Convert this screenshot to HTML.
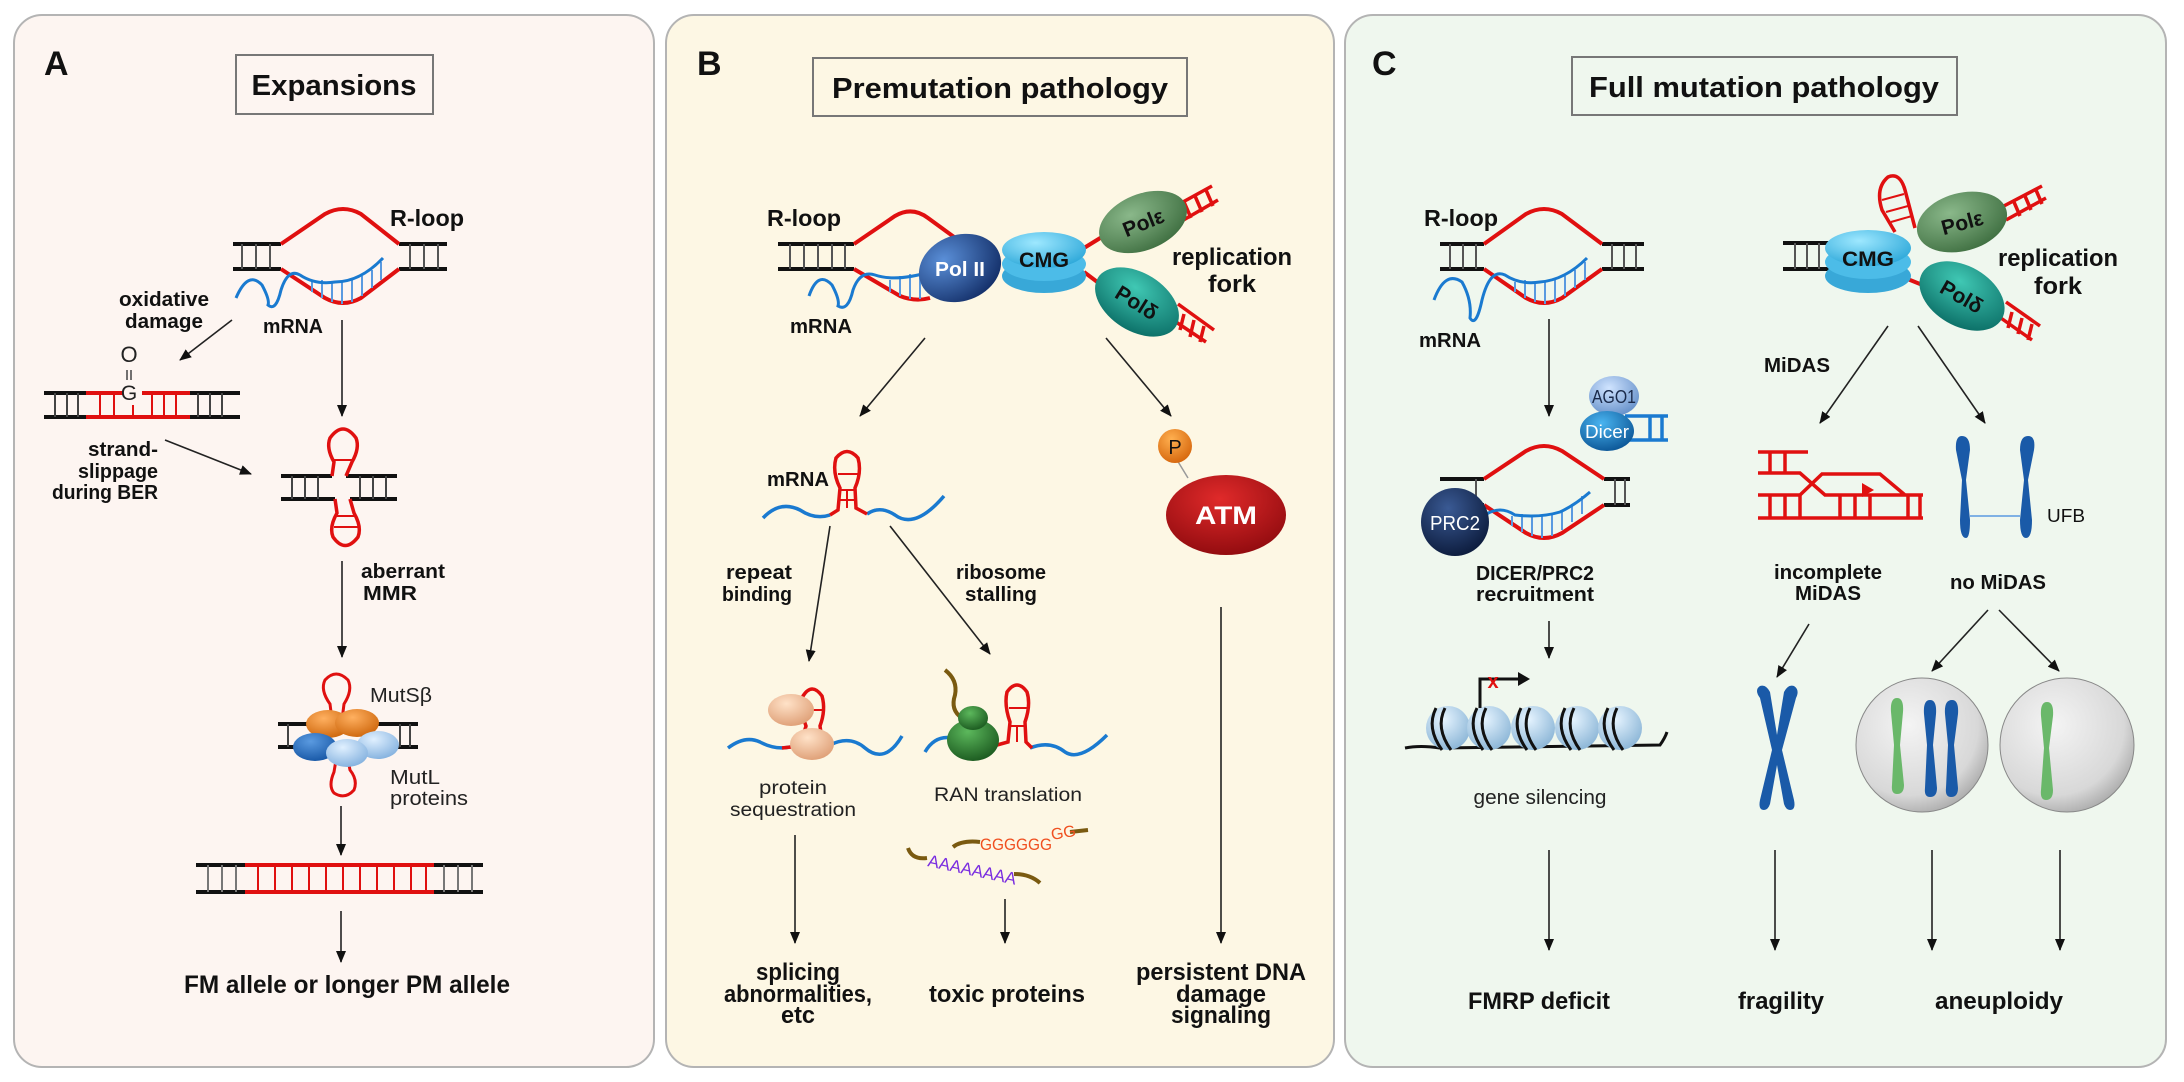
<!DOCTYPE html>
<html><head><meta charset="utf-8"><style>
html,body{margin:0;padding:0;background:#fff}
svg{display:block}
text{font-family:"Liberation Sans",sans-serif}
.b{font-weight:bold;fill:#111}
.n{fill:#222}
</style></head><body>
<svg width="2184" height="1082" viewBox="0 0 2184 1082" xmlns="http://www.w3.org/2000/svg">
<defs>
<marker id="ar" viewBox="0 0 12 10" refX="11" refY="5" markerWidth="12" markerHeight="10" markerUnits="userSpaceOnUse" orient="auto">
<path d="M0,0 L12,5 L0,10 z" fill="#111"/></marker>
<radialGradient id="gb" cx="35%" cy="30%" r="75%"><stop offset="0" stop-color="#5a8fd8"/><stop offset="1" stop-color="#14306a"/></radialGradient>
<radialGradient id="gc" cx="40%" cy="30%" r="75%"><stop offset="0" stop-color="#9ee8ff"/><stop offset="1" stop-color="#2aa6d8"/></radialGradient>
<radialGradient id="ge" cx="40%" cy="30%" r="75%"><stop offset="0" stop-color="#8ab88a"/><stop offset="1" stop-color="#3e6e40"/></radialGradient>
<radialGradient id="gd" cx="40%" cy="30%" r="75%"><stop offset="0" stop-color="#40c8b4"/><stop offset="1" stop-color="#0b6e66"/></radialGradient>
<radialGradient id="gr" cx="45%" cy="30%" r="75%"><stop offset="0" stop-color="#e02a2a"/><stop offset="1" stop-color="#8e0a0e"/></radialGradient>
<radialGradient id="go" cx="40%" cy="30%" r="70%"><stop offset="0" stop-color="#ffb050"/><stop offset="1" stop-color="#d86a10"/></radialGradient>
<radialGradient id="gp" cx="40%" cy="30%" r="70%"><stop offset="0" stop-color="#ffe2c8"/><stop offset="1" stop-color="#e0a27a"/></radialGradient>
<radialGradient id="gg" cx="40%" cy="30%" r="70%"><stop offset="0" stop-color="#5cb85c"/><stop offset="1" stop-color="#1e5e22"/></radialGradient>
<radialGradient id="gl" cx="40%" cy="30%" r="70%"><stop offset="0" stop-color="#e6f4ff"/><stop offset="1" stop-color="#8fb8d8"/></radialGradient>
<radialGradient id="gcell" cx="40%" cy="35%" r="70%"><stop offset="0" stop-color="#f4f4f4"/><stop offset="0.75" stop-color="#d8d8d8"/><stop offset="1" stop-color="#a8a8a8"/></radialGradient>
<radialGradient id="gm1" cx="40%" cy="30%" r="70%"><stop offset="0" stop-color="#ffb060"/><stop offset="1" stop-color="#d06a10"/></radialGradient>
<radialGradient id="gm2" cx="40%" cy="30%" r="70%"><stop offset="0" stop-color="#5a9ae0"/><stop offset="1" stop-color="#1a5aa8"/></radialGradient>
<radialGradient id="gm3" cx="40%" cy="30%" r="70%"><stop offset="0" stop-color="#e0f0ff"/><stop offset="1" stop-color="#88b4e0"/></radialGradient>
<radialGradient id="gago" cx="40%" cy="30%" r="70%"><stop offset="0" stop-color="#d0e4ff"/><stop offset="1" stop-color="#6a94cc"/></radialGradient>
<radialGradient id="gdic" cx="40%" cy="30%" r="70%"><stop offset="0" stop-color="#4ab4f0"/><stop offset="1" stop-color="#0e5a9a"/></radialGradient>
<radialGradient id="gprc" cx="40%" cy="30%" r="70%"><stop offset="0" stop-color="#3a5a94"/><stop offset="1" stop-color="#0e1e40"/></radialGradient>
</defs>

<rect x="14" y="15" width="640" height="1052" rx="28" fill="#fdf5f1" stroke="#b4b4b4" stroke-width="2"/>
<rect x="666" y="15" width="668" height="1052" rx="28" fill="#fdf7e4" stroke="#b4b4b4" stroke-width="2"/>
<rect x="1345" y="15" width="821" height="1052" rx="28" fill="#eff7ee" stroke="#b4b4b4" stroke-width="2"/>

<text x="44" y="75" class="b" font-size="34">A</text>
<text x="697" y="75" class="b" font-size="34">B</text>
<text x="1372" y="75" class="b" font-size="34">C</text>

<rect x="236" y="55" width="197" height="59" fill="none" stroke="#777" stroke-width="2"/>
<text x="334" y="95" class="b" font-size="29" text-anchor="middle" textLength="165" lengthAdjust="spacingAndGlyphs">Expansions</text>
<rect x="813" y="58" width="374" height="58" fill="none" stroke="#777" stroke-width="2"/>
<text x="1000" y="98" class="b" font-size="29" text-anchor="middle" textLength="336" lengthAdjust="spacingAndGlyphs">Premutation pathology</text>
<rect x="1572" y="57" width="385" height="58" fill="none" stroke="#777" stroke-width="2"/>
<text x="1764" y="97" class="b" font-size="29" text-anchor="middle" textLength="350" lengthAdjust="spacingAndGlyphs">Full mutation pathology</text>

<g stroke="#222" stroke-width="1.6" fill="none" marker-end="url(#ar)">
<line x1="232" y1="320" x2="180" y2="360"/>
<line x1="342" y1="320" x2="342" y2="416"/>
<line x1="165" y1="440" x2="251" y2="474"/>
<line x1="342" y1="561" x2="342" y2="657"/>
<line x1="341" y1="806" x2="341" y2="855"/>
<line x1="341" y1="911" x2="341" y2="962"/>
<line x1="925" y1="338" x2="860" y2="416"/>
<line x1="1106" y1="338" x2="1171" y2="416"/>
<line x1="830" y1="526" x2="809" y2="661"/>
<line x1="890" y1="526" x2="990" y2="654"/>
<line x1="795" y1="835" x2="795" y2="943"/>
<line x1="1005" y1="899" x2="1005" y2="943"/>
<line x1="1221" y1="607" x2="1221" y2="943"/>
<line x1="1549" y1="319" x2="1549" y2="416"/>
<line x1="1549" y1="621" x2="1549" y2="658"/>
<line x1="1549" y1="850" x2="1549" y2="950"/>
<line x1="1888" y1="326" x2="1820" y2="423"/>
<line x1="1918" y1="326" x2="1985" y2="423"/>
<line x1="1809" y1="624" x2="1777" y2="677"/>
<line x1="1988" y1="610" x2="1932" y2="671"/>
<line x1="1999" y1="610" x2="2059" y2="671"/>
<line x1="1775" y1="850" x2="1775" y2="950"/>
<line x1="1932" y1="850" x2="1932" y2="950"/>
<line x1="2060" y1="850" x2="2060" y2="950"/>
</g>

<g stroke="#111" stroke-width="4"><line x1="233" y1="244" x2="281" y2="244"/><line x1="233" y1="269" x2="281" y2="269"/><line x1="399" y1="244" x2="447" y2="244"/><line x1="399" y1="269" x2="447" y2="269"/></g>
<g stroke="#555" stroke-width="2"><line x1="242" y1="244" x2="242" y2="269"/><line x1="256" y1="244" x2="256" y2="269"/><line x1="270" y1="244" x2="270" y2="269"/><line x1="410" y1="244" x2="410" y2="269"/><line x1="424" y1="244" x2="424" y2="269"/><line x1="438" y1="244" x2="438" y2="269"/></g>
<path d="M281,244 L325,214 Q343,204 361,214 L399,244" stroke="#e01010" stroke-width="4" fill="none"/>
<path d="M281,269 L325,298 Q343,308 361,298 L399,269" stroke="#e01010" stroke-width="4" fill="none"/>
<g stroke="#5a9ae0" stroke-width="2"><line x1="312" y1="282" x2="312" y2="292"/><line x1="322" y1="280" x2="322" y2="298"/><line x1="332" y1="282" x2="332" y2="302"/><line x1="342" y1="282" x2="342" y2="304"/><line x1="352" y1="280" x2="352" y2="302"/><line x1="362" y1="276" x2="362" y2="296"/><line x1="372" y1="270" x2="372" y2="288"/><line x1="381" y1="262" x2="381" y2="280"/></g>
<path d="M236,298 Q248,270 262,285 Q270,300 268,305 Q276,312 281,290 Q288,268 300,275 Q315,285 335,282 Q360,282 383,258" stroke="#1a7ad0" stroke-width="3" fill="none"/>
<text x="390" y="226" class="b" font-size="23" textLength="74" lengthAdjust="spacingAndGlyphs">R-loop</text>
<text x="164" y="306" class="b" font-size="20" text-anchor="middle" textLength="90" lengthAdjust="spacingAndGlyphs">oxidative</text>
<text x="164" y="328" class="b" font-size="20" text-anchor="middle" textLength="78" lengthAdjust="spacingAndGlyphs">damage</text>
<text x="293" y="333" class="b" font-size="20" text-anchor="middle" textLength="60" lengthAdjust="spacingAndGlyphs">mRNA</text>
<g stroke-width="4"><line x1="44" y1="393" x2="86" y2="393" stroke="#111"/><line x1="44" y1="417" x2="86" y2="417" stroke="#111"/><line x1="190" y1="393" x2="240" y2="393" stroke="#111"/><line x1="190" y1="417" x2="240" y2="417" stroke="#111"/><line x1="86" y1="393" x2="123" y2="393" stroke="#e01010"/><line x1="142" y1="393" x2="190" y2="393" stroke="#e01010"/><line x1="86" y1="417" x2="190" y2="417" stroke="#e01010"/></g>
<g stroke="#444" stroke-width="2"><line x1="55" y1="393" x2="55" y2="417"/><line x1="67" y1="393" x2="67" y2="417"/><line x1="78" y1="393" x2="78" y2="417"/><line x1="198" y1="393" x2="198" y2="417"/><line x1="210" y1="393" x2="210" y2="417"/><line x1="222" y1="393" x2="222" y2="417"/></g>
<g stroke="#e01010" stroke-width="2"><line x1="100" y1="393" x2="100" y2="417"/><line x1="114" y1="393" x2="114" y2="417"/><line x1="133" y1="405" x2="133" y2="417"/><line x1="152" y1="393" x2="152" y2="417"/><line x1="164" y1="393" x2="164" y2="417"/><line x1="176" y1="393" x2="176" y2="417"/></g>
<text x="129" y="362" font-size="22" fill="#222" text-anchor="middle">O</text>
<g stroke="#444" stroke-width="1.5"><line x1="127" y1="370" x2="127" y2="380"/><line x1="131" y1="370" x2="131" y2="380"/></g>
<text x="129" y="400" font-size="21" fill="#222" text-anchor="middle">G</text>
<text x="158" y="456" class="b" font-size="20" text-anchor="end" textLength="70" lengthAdjust="spacingAndGlyphs">strand-</text>
<text x="158" y="478" class="b" font-size="20" text-anchor="end" textLength="80" lengthAdjust="spacingAndGlyphs">slippage</text>
<text x="158" y="499" class="b" font-size="20" text-anchor="end" textLength="106" lengthAdjust="spacingAndGlyphs">during BER</text>
<g stroke="#111" stroke-width="4"><line x1="281" y1="476" x2="332" y2="476"/><line x1="346" y1="476" x2="397" y2="476"/><line x1="281" y1="499" x2="335" y2="499"/><line x1="350" y1="499" x2="397" y2="499"/></g>
<g stroke="#444" stroke-width="2"><line x1="292" y1="476" x2="292" y2="499"/><line x1="305" y1="476" x2="305" y2="499"/><line x1="318" y1="476" x2="318" y2="499"/><line x1="360" y1="476" x2="360" y2="499"/><line x1="373" y1="476" x2="373" y2="499"/><line x1="386" y1="476" x2="386" y2="499"/></g>
<path d="M332,476 L334,462 Q326,448 330,438 Q343,420 356,438 Q360,448 352,462 L346,476" stroke="#e01010" stroke-width="3.5" fill="none"/>
<line x1="333" y1="460" x2="353" y2="460" stroke="#e01010" stroke-width="2"/>
<path d="M335,499 L337,513 Q329,527 333,537 Q345,554 358,537 Q362,527 354,513 L350,499" stroke="#e01010" stroke-width="3.5" fill="none"/>
<line x1="336" y1="516" x2="355" y2="516" stroke="#e01010" stroke-width="2"/>
<line x1="334" y1="527" x2="358" y2="527" stroke="#e01010" stroke-width="2"/>
<text x="361" y="578" class="b" font-size="20" textLength="84" lengthAdjust="spacingAndGlyphs">aberrant</text>
<text x="363" y="600" class="b" font-size="20" textLength="54" lengthAdjust="spacingAndGlyphs">MMR</text>
<g stroke="#111" stroke-width="4"><line x1="278" y1="724" x2="418" y2="724"/><line x1="278" y1="747" x2="418" y2="747"/></g>
<g stroke="#444" stroke-width="2"><line x1="288" y1="724" x2="288" y2="747"/><line x1="400" y1="724" x2="400" y2="747"/><line x1="410" y1="724" x2="410" y2="747"/></g>
<path d="M332,720 L330,704 Q320,690 325,680 Q336,668 348,680 Q353,690 344,704 L342,720" stroke="#e01010" stroke-width="3" fill="none"/>
<path d="M336,760 L334,772 Q328,786 334,793 Q345,800 354,790 Q358,780 350,770 L348,760" stroke="#e01010" stroke-width="3" fill="none"/>
<ellipse cx="328" cy="724" rx="22" ry="14" fill="url(#gm1)"/>
<ellipse cx="357" cy="723" rx="22" ry="14" fill="url(#gm1)"/>
<ellipse cx="315" cy="747" rx="22" ry="14" fill="url(#gm2)"/>
<ellipse cx="378" cy="745" rx="21" ry="14" fill="url(#gm3)"/>
<ellipse cx="347" cy="753" rx="21" ry="14" fill="url(#gm3)"/>
<text x="370" y="702" font-size="20" fill="#222" textLength="62" lengthAdjust="spacingAndGlyphs">MutSβ</text>
<text x="390" y="784" font-size="20" fill="#222" textLength="50" lengthAdjust="spacingAndGlyphs">MutL</text>
<text x="390" y="805" font-size="20" fill="#222" textLength="78" lengthAdjust="spacingAndGlyphs">proteins</text>
<g stroke-width="4"><line x1="196" y1="865" x2="245" y2="865" stroke="#111"/><line x1="434" y1="865" x2="483" y2="865" stroke="#111"/><line x1="196" y1="892" x2="245" y2="892" stroke="#111"/><line x1="434" y1="892" x2="483" y2="892" stroke="#111"/><line x1="245" y1="865" x2="434" y2="865" stroke="#e01010"/><line x1="245" y1="892" x2="434" y2="892" stroke="#e01010"/></g>
<g stroke="#777" stroke-width="2"><line x1="208" y1="865" x2="208" y2="892"/><line x1="222" y1="865" x2="222" y2="892"/><line x1="236" y1="865" x2="236" y2="892"/><line x1="444" y1="865" x2="444" y2="892"/><line x1="458" y1="865" x2="458" y2="892"/><line x1="472" y1="865" x2="472" y2="892"/></g>
<g stroke="#e01010" stroke-width="2"><line x1="258" y1="865" x2="258" y2="892"/><line x1="275" y1="865" x2="275" y2="892"/><line x1="292" y1="865" x2="292" y2="892"/><line x1="309" y1="865" x2="309" y2="892"/><line x1="326" y1="865" x2="326" y2="892"/><line x1="343" y1="865" x2="343" y2="892"/><line x1="360" y1="865" x2="360" y2="892"/><line x1="377" y1="865" x2="377" y2="892"/><line x1="394" y1="865" x2="394" y2="892"/><line x1="411" y1="865" x2="411" y2="892"/><line x1="426" y1="865" x2="426" y2="892"/></g>
<text x="347" y="993" class="b" font-size="25" text-anchor="middle" textLength="326" lengthAdjust="spacingAndGlyphs">FM allele or longer PM allele</text>

<g stroke="#111" stroke-width="4"><line x1="778" y1="244" x2="854" y2="244"/><line x1="778" y1="269" x2="854" y2="269"/></g>
<g stroke="#555" stroke-width="2"><line x1="790" y1="244" x2="790" y2="269"/><line x1="804" y1="244" x2="804" y2="269"/><line x1="818" y1="244" x2="818" y2="269"/><line x1="832" y1="244" x2="832" y2="269"/><line x1="845" y1="244" x2="845" y2="269"/></g>
<path d="M854,244 L895,216 Q912,206 928,218 L965,245" stroke="#e01010" stroke-width="4" fill="none"/>
<path d="M854,269 L900,296 Q915,302 930,298" stroke="#e01010" stroke-width="4" fill="none"/>
<g stroke="#5a9ae0" stroke-width="2"><line x1="890" y1="280" x2="890" y2="292"/><line x1="900" y1="276" x2="900" y2="296"/><line x1="910" y1="274" x2="910" y2="299"/><line x1="920" y1="274" x2="920" y2="299"/></g>
<path d="M809,296 Q818,270 832,285 Q840,300 838,306 Q848,312 853,290 Q860,270 875,275 Q895,282 930,272" stroke="#1a7ad0" stroke-width="3" fill="none"/>
<line x1="1084" y1="248" x2="1110" y2="232" stroke="#e01010" stroke-width="4"/>
<line x1="1084" y1="272" x2="1108" y2="290" stroke="#e01010" stroke-width="4"/>
<ellipse cx="960" cy="268" rx="42" ry="33" transform="rotate(-20 960 268)" fill="url(#gb)"/>
<text x="960" y="276" font-size="20" font-weight="bold" fill="#fff" text-anchor="middle" textLength="50" lengthAdjust="spacingAndGlyphs">Pol II</text>
<ellipse cx="1044" cy="276" rx="42" ry="17" fill="#38a8d8"/>
<ellipse cx="1044" cy="264" rx="42" ry="17" fill="#4cbce8"/>
<ellipse cx="1044" cy="250" rx="42" ry="18" fill="url(#gc)"/>
<text x="1044" y="267" font-size="21" font-weight="bold" fill="#111" text-anchor="middle" textLength="50" lengthAdjust="spacingAndGlyphs">CMG</text>
<g stroke="#e01010" stroke-width="3.5" fill="none"><path d="M1172,208 L1212,186 M1180,222 L1218,200 M1184,202 L1191,218 M1195,196 L1202,212 M1206,190 L1213,206"/>
<path d="M1170,318 L1206,342 M1178,304 L1214,330 M1184,314 L1180,330 M1194,320 L1190,337 M1204,326 L1200,342"/></g>
<ellipse cx="1143" cy="222" rx="46" ry="28" transform="rotate(-22 1143 222)" fill="url(#ge)"/>
<text x="1143" y="230" font-size="21" font-weight="bold" fill="#111" text-anchor="middle" transform="rotate(-22 1143 222)">Polε</text>
<ellipse cx="1137" cy="302" rx="46" ry="29" transform="rotate(32 1137 302)" fill="url(#gd)"/>
<text x="1137" y="310" font-size="21" font-weight="bold" fill="#111" text-anchor="middle" transform="rotate(32 1137 302)">Polδ</text>
<text x="1232" y="265" class="b" font-size="24" text-anchor="middle" textLength="120" lengthAdjust="spacingAndGlyphs">replication</text>
<text x="1232" y="292" class="b" font-size="24" text-anchor="middle" textLength="48" lengthAdjust="spacingAndGlyphs">fork</text>
<text x="767" y="226" class="b" font-size="23" textLength="74" lengthAdjust="spacingAndGlyphs">R-loop</text>
<text x="821" y="333" class="b" font-size="20" text-anchor="middle" textLength="62" lengthAdjust="spacingAndGlyphs">mRNA</text>
<text x="767" y="486" class="b" font-size="20" textLength="62" lengthAdjust="spacingAndGlyphs">mRNA</text>
<path d="M763,518 Q780,500 800,510 Q815,520 830,515" stroke="#1a7ad0" stroke-width="3.5" fill="none"/>
<path d="M867,514 Q880,505 895,515 Q915,530 944,496" stroke="#1a7ad0" stroke-width="3.5" fill="none"/>
<path d="M830,515 L838,510 L840,488 Q832,472 836,458 Q847,445 858,458 Q862,472 855,488 L856,508 L867,514" stroke="#e01010" stroke-width="3.5" fill="none"/>
<g stroke="#e01010" stroke-width="2"><line x1="838" y1="474" x2="858" y2="474"/><line x1="840" y1="490" x2="856" y2="490"/><line x1="840" y1="500" x2="856" y2="500"/><line x1="847" y1="490" x2="847" y2="508"/></g>
<line x1="1177" y1="460" x2="1188" y2="478" stroke="#999" stroke-width="1.5"/>
<circle cx="1175" cy="446" r="17" fill="url(#go)"/>
<text x="1175" y="454" font-size="20" fill="#111" text-anchor="middle">P</text>
<ellipse cx="1226" cy="515" rx="60" ry="40" fill="url(#gr)"/>
<text x="1226" y="524" font-size="25" font-weight="bold" fill="#fff" text-anchor="middle" textLength="62" lengthAdjust="spacingAndGlyphs">ATM</text>
<text x="792" y="579" class="b" font-size="20" text-anchor="end" textLength="66" lengthAdjust="spacingAndGlyphs">repeat</text>
<text x="792" y="601" class="b" font-size="20" text-anchor="end" textLength="70" lengthAdjust="spacingAndGlyphs">binding</text>
<text x="1001" y="579" class="b" font-size="20" text-anchor="middle" textLength="90" lengthAdjust="spacingAndGlyphs">ribosome</text>
<text x="1001" y="601" class="b" font-size="20" text-anchor="middle" textLength="72" lengthAdjust="spacingAndGlyphs">stalling</text>
<path d="M728,748 Q745,735 760,742 Q775,750 790,747" stroke="#1a7ad0" stroke-width="3.5" fill="none"/>
<path d="M830,745 Q850,735 865,748 Q885,765 902,736" stroke="#1a7ad0" stroke-width="3.5" fill="none"/>
<path d="M782,748 L800,746 L806,726 Q800,710 803,696 Q812,682 822,696 Q826,710 820,726 L822,740" stroke="#e01010" stroke-width="3.5" fill="none"/>
<line x1="806" y1="710" x2="822" y2="710" stroke="#e01010" stroke-width="2"/>
<ellipse cx="791" cy="710" rx="23" ry="16" fill="url(#gp)"/>
<ellipse cx="812" cy="744" rx="22" ry="16" fill="url(#gp)"/>
<text x="793" y="794" font-size="19" fill="#222" text-anchor="middle" textLength="68" lengthAdjust="spacingAndGlyphs">protein</text>
<text x="793" y="816" font-size="19" fill="#222" text-anchor="middle" textLength="126" lengthAdjust="spacingAndGlyphs">sequestration</text>
<path d="M925,752 Q935,735 952,738" stroke="#1a7ad0" stroke-width="3.5" fill="none"/>
<path d="M1030,748 Q1050,740 1065,752 Q1080,762 1107,735" stroke="#1a7ad0" stroke-width="3.5" fill="none"/>
<path d="M945,670 Q958,680 955,695 Q950,710 962,718" stroke="#7a5a10" stroke-width="4" fill="none"/>
<path d="M997,745 L1008,742 L1010,722 Q1004,705 1007,692 Q1017,678 1027,692 Q1031,705 1025,722 L1026,742 L1032,748" stroke="#e01010" stroke-width="3.5" fill="none"/>
<g stroke="#e01010" stroke-width="2"><line x1="1009" y1="708" x2="1027" y2="708"/><line x1="1010" y1="726" x2="1025" y2="726"/><line x1="1017" y1="726" x2="1017" y2="742"/></g>
<ellipse cx="973" cy="740" rx="26" ry="21" fill="url(#gg)"/>
<ellipse cx="973" cy="718" rx="15" ry="12" fill="url(#gg)"/>
<text x="1008" y="801" font-size="19" fill="#222" text-anchor="middle" textLength="148" lengthAdjust="spacingAndGlyphs">RAN translation</text>
<path d="M953,847 Q962,840 980,842" stroke="#7a5a10" stroke-width="4" fill="none"/>
<path d="M1070,832 L1088,830" stroke="#7a5a10" stroke-width="4" fill="none"/>
<text x="980" y="850" font-size="17" fill="#f05020" textLength="72" lengthAdjust="spacingAndGlyphs">GGGGGG</text>
<text x="1052" y="840" font-size="16" fill="#f05020" transform="rotate(-10 1052 840)">GG</text>
<path d="M908,848 Q912,860 927,858" stroke="#7a5a10" stroke-width="4" fill="none"/>
<path d="M1014,874 Q1030,874 1040,883" stroke="#7a5a10" stroke-width="4" fill="none"/>
<text x="927" y="866" font-size="17" fill="#7a2ee0" transform="rotate(12 927 866)" textLength="90" lengthAdjust="spacingAndGlyphs">AAAAAAAA</text>
<text x="798" y="980" class="b" font-size="24" text-anchor="middle" textLength="84" lengthAdjust="spacingAndGlyphs">splicing</text>
<text x="798" y="1002" class="b" font-size="24" text-anchor="middle" textLength="148" lengthAdjust="spacingAndGlyphs">abnormalities,</text>
<text x="798" y="1023" class="b" font-size="24" text-anchor="middle" textLength="34" lengthAdjust="spacingAndGlyphs">etc</text>
<text x="1007" y="1002" class="b" font-size="24" text-anchor="middle" textLength="156" lengthAdjust="spacingAndGlyphs">toxic proteins</text>
<text x="1221" y="980" class="b" font-size="24" text-anchor="middle" textLength="170" lengthAdjust="spacingAndGlyphs">persistent DNA</text>
<text x="1221" y="1002" class="b" font-size="24" text-anchor="middle" textLength="90" lengthAdjust="spacingAndGlyphs">damage</text>
<text x="1221" y="1023" class="b" font-size="24" text-anchor="middle" textLength="100" lengthAdjust="spacingAndGlyphs">signaling</text>

<text x="1424" y="226" class="b" font-size="23" textLength="74" lengthAdjust="spacingAndGlyphs">R-loop</text>
<g stroke="#111" stroke-width="4"><line x1="1440" y1="244" x2="1484" y2="244"/><line x1="1440" y1="269" x2="1484" y2="269"/><line x1="1602" y1="244" x2="1644" y2="244"/><line x1="1602" y1="269" x2="1644" y2="269"/></g>
<g stroke="#555" stroke-width="2"><line x1="1450" y1="244" x2="1450" y2="269"/><line x1="1463" y1="244" x2="1463" y2="269"/><line x1="1476" y1="244" x2="1476" y2="269"/><line x1="1612" y1="244" x2="1612" y2="269"/><line x1="1624" y1="244" x2="1624" y2="269"/><line x1="1636" y1="244" x2="1636" y2="269"/></g>
<path d="M1484,244 L1526,214 Q1544,204 1562,214 L1602,244" stroke="#e01010" stroke-width="4" fill="none"/>
<path d="M1484,269 L1526,298 Q1544,308 1562,298 L1602,269" stroke="#e01010" stroke-width="4" fill="none"/>
<g stroke="#5a9ae0" stroke-width="2"><line x1="1515" y1="282" x2="1515" y2="292"/><line x1="1525" y1="280" x2="1525" y2="298"/><line x1="1535" y1="282" x2="1535" y2="302"/><line x1="1545" y1="282" x2="1545" y2="304"/><line x1="1555" y1="280" x2="1555" y2="302"/><line x1="1565" y1="276" x2="1565" y2="296"/><line x1="1575" y1="270" x2="1575" y2="288"/><line x1="1585" y1="262" x2="1585" y2="280"/></g>
<path d="M1434,300 Q1445,270 1462,282 Q1472,300 1470,318 Q1476,328 1482,300 Q1490,268 1505,275 Q1520,285 1540,282 Q1565,280 1587,258" stroke="#1a7ad0" stroke-width="3" fill="none"/>
<text x="1450" y="347" class="b" font-size="20" text-anchor="middle" textLength="62" lengthAdjust="spacingAndGlyphs">mRNA</text>
<g stroke="#111" stroke-width="4"><line x1="1440" y1="479" x2="1484" y2="479"/><line x1="1440" y1="505" x2="1484" y2="505"/><line x1="1604" y1="479" x2="1630" y2="479"/><line x1="1604" y1="505" x2="1630" y2="505"/></g>
<g stroke="#555" stroke-width="2"><line x1="1476" y1="479" x2="1476" y2="505"/><line x1="1615" y1="479" x2="1615" y2="505"/><line x1="1625" y1="479" x2="1625" y2="505"/></g>
<path d="M1484,479 L1526,451 Q1544,441 1562,451 L1604,479" stroke="#e01010" stroke-width="4" fill="none"/>
<path d="M1484,505 L1526,533 Q1544,543 1562,533 L1604,505" stroke="#e01010" stroke-width="4" fill="none"/>
<g stroke="#5a9ae0" stroke-width="2"><line x1="1512" y1="516" x2="1512" y2="526"/><line x1="1522" y1="514" x2="1522" y2="532"/><line x1="1532" y1="516" x2="1532" y2="536"/><line x1="1542" y1="516" x2="1542" y2="538"/><line x1="1552" y1="514" x2="1552" y2="536"/><line x1="1562" y1="510" x2="1562" y2="530"/><line x1="1572" y1="504" x2="1572" y2="522"/><line x1="1582" y1="496" x2="1582" y2="514"/></g>
<path d="M1485,515 Q1500,505 1515,515 Q1540,518 1560,512 Q1575,505 1590,492" stroke="#1a7ad0" stroke-width="3" fill="none"/>
<circle cx="1455" cy="522" r="34" fill="url(#gprc)"/>
<text x="1455" y="530" font-size="20" fill="#fff" text-anchor="middle" textLength="50" lengthAdjust="spacingAndGlyphs">PRC2</text>
<g stroke="#1a7ad0" stroke-width="3.5"><line x1="1625" y1="416" x2="1668" y2="416"/><line x1="1625" y1="440" x2="1668" y2="440"/><line x1="1650" y1="416" x2="1650" y2="440"/><line x1="1662" y1="416" x2="1662" y2="440"/></g>
<ellipse cx="1614" cy="396" rx="25" ry="20" fill="url(#gago)"/>
<text x="1614" y="403" font-size="18" fill="#1a2a4a" text-anchor="middle" textLength="44" lengthAdjust="spacingAndGlyphs">AGO1</text>
<ellipse cx="1607" cy="431" rx="27" ry="20" fill="url(#gdic)"/>
<text x="1607" y="438" font-size="18" fill="#fff" text-anchor="middle" textLength="44" lengthAdjust="spacingAndGlyphs">Dicer</text>
<text x="1535" y="580" class="b" font-size="20" text-anchor="middle" textLength="118" lengthAdjust="spacingAndGlyphs">DICER/PRC2</text>
<text x="1535" y="601" class="b" font-size="20" text-anchor="middle" textLength="118" lengthAdjust="spacingAndGlyphs">recruitment</text>
<path d="M1405,748 Q1420,745 1440,748 L1660,745 Q1665,738 1667,732" stroke="#111" stroke-width="3" fill="none"/>
<g fill="url(#gl)"><circle cx="1448" cy="728" r="22"/><circle cx="1489" cy="728" r="22"/><circle cx="1533" cy="728" r="22"/><circle cx="1577" cy="728" r="22"/><circle cx="1620" cy="728" r="22"/></g>
<g stroke="#111" stroke-width="3" fill="none">
<path d="M1436,708 Q1426,728 1442,750 M1445,708 Q1435,728 1451,750"/>
<path d="M1477,708 Q1467,728 1483,750 M1486,708 Q1476,728 1492,750"/>
<path d="M1521,708 Q1511,728 1527,750 M1530,708 Q1520,728 1536,750"/>
<path d="M1565,708 Q1555,728 1571,750 M1574,708 Q1564,728 1580,750"/>
<path d="M1608,708 Q1598,728 1614,750 M1617,708 Q1607,728 1623,750"/>
<path d="M1480,708 L1480,679 L1520,679"/></g>
<path d="M1518,672 L1530,679 L1518,686 z" fill="#111"/>
<text x="1493" y="688" font-size="20" fill="#e01010" text-anchor="middle" font-weight="bold">x</text>
<text x="1540" y="804" font-size="20" fill="#222" text-anchor="middle" textLength="133" lengthAdjust="spacingAndGlyphs">gene silencing</text>
<text x="1539" y="1009" class="b" font-size="24" text-anchor="middle" textLength="142" lengthAdjust="spacingAndGlyphs">FMRP deficit</text>
<g stroke="#111" stroke-width="4"><line x1="1783" y1="243" x2="1830" y2="243"/><line x1="1783" y1="269" x2="1830" y2="269"/></g>
<g stroke="#555" stroke-width="2"><line x1="1795" y1="243" x2="1795" y2="269"/><line x1="1807" y1="243" x2="1807" y2="269"/><line x1="1819" y1="243" x2="1819" y2="269"/></g>
<path d="M1895,232 L1882,210 Q1875,188 1888,177 Q1900,172 1905,190 L1915,228" stroke="#e01010" stroke-width="3.5" fill="none"/>
<g stroke="#e01010" stroke-width="2"><line x1="1882" y1="200" x2="1904" y2="194"/><line x1="1886" y1="212" x2="1908" y2="206"/><line x1="1891" y1="222" x2="1912" y2="216"/></g>
<line x1="1905" y1="278" x2="1925" y2="286" stroke="#e01010" stroke-width="4"/>
<g stroke="#e01010" stroke-width="3.5" fill="none"><path d="M2000,208 L2042,186 M2006,220 L2046,198 M2014,202 L2020,216 M2025,196 L2031,210 M2036,190 L2042,204"/>
<path d="M1998,316 L2032,340 M2006,302 L2040,326 M2012,312 L2008,328 M2022,318 L2018,334 M2032,324 L2028,340"/></g>
<ellipse cx="1868" cy="276" rx="43" ry="17" fill="#38a8d8"/>
<ellipse cx="1868" cy="262" rx="43" ry="17" fill="#4cbce8"/>
<ellipse cx="1868" cy="248" rx="43" ry="18" fill="url(#gc)"/>
<text x="1868" y="266" font-size="21" font-weight="bold" fill="#111" text-anchor="middle" textLength="52" lengthAdjust="spacingAndGlyphs">CMG</text>
<ellipse cx="1962" cy="222" rx="46" ry="29" transform="rotate(-15 1962 222)" fill="url(#ge)"/>
<text x="1962" y="230" font-size="21" font-weight="bold" fill="#111" text-anchor="middle" transform="rotate(-15 1962 222)">Polε</text>
<ellipse cx="1962" cy="296" rx="46" ry="30" transform="rotate(30 1962 296)" fill="url(#gd)"/>
<text x="1962" y="304" font-size="21" font-weight="bold" fill="#111" text-anchor="middle" transform="rotate(30 1962 296)">Polδ</text>
<text x="2058" y="266" class="b" font-size="24" text-anchor="middle" textLength="120" lengthAdjust="spacingAndGlyphs">replication</text>
<text x="2058" y="294" class="b" font-size="24" text-anchor="middle" textLength="48" lengthAdjust="spacingAndGlyphs">fork</text>
<text x="1797" y="372" class="b" font-size="20" text-anchor="middle" textLength="66" lengthAdjust="spacingAndGlyphs">MiDAS</text>
<g stroke="#e01010" stroke-width="3.5" fill="none">
<path d="M1758,452 L1808,452 M1758,473 L1800,473 L1825,495 L1923,495 M1758,518 L1923,518 M1758,495 L1800,495 L1822,474 L1880,474 L1905,495"/>
<path d="M1770,452 L1770,473 M1785,452 L1785,473 M1770,495 L1770,518 M1785,495 L1785,518 M1800,495 L1800,518 M1840,495 L1840,518 M1855,495 L1855,518 M1870,495 L1870,518 M1908,495 L1908,518 M1920,495 L1920,518"/></g>
<path d="M1862,483 L1874,490 L1862,497 z" fill="#e01010"/>
<g fill="#1a5aa8"><path d="M1962,436 Q1970,436 1970,450 L1966,480 L1970,520 Q1970,538 1966,538 Q1960,538 1960,520 L1962,480 L1956,450 Q1955,436 1962,436z"/>
<path d="M2028,436 Q2036,436 2034,450 L2028,480 L2032,520 Q2032,538 2026,538 Q2020,538 2020,520 L2024,480 L2020,450 Q2020,436 2028,436z"/></g>
<line x1="1970" y1="516" x2="2020" y2="516" stroke="#5a9ae0" stroke-width="1.5"/>
<text x="2047" y="522" font-size="18" fill="#111" textLength="38" lengthAdjust="spacingAndGlyphs">UFB</text>
<text x="1828" y="579" class="b" font-size="20" text-anchor="middle" textLength="108" lengthAdjust="spacingAndGlyphs">incomplete</text>
<text x="1828" y="600" class="b" font-size="20" text-anchor="middle" textLength="66" lengthAdjust="spacingAndGlyphs">MiDAS</text>
<text x="1998" y="589" class="b" font-size="20" text-anchor="middle" textLength="96" lengthAdjust="spacingAndGlyphs">no MiDAS</text>
<g fill="#1a5aa8"><path d="M1760,698 Q1754,690 1760,686 Q1766,684 1770,692 L1777,735 L1784,692 Q1788,684 1794,686 Q1800,690 1796,698 L1782,750 L1794,800 Q1796,810 1790,810 Q1786,810 1784,804 L1777,765 L1770,804 Q1768,810 1764,810 Q1758,810 1760,800 L1772,750 z"/></g>
<ellipse cx="1922" cy="745" rx="66" ry="67" fill="url(#gcell)" stroke="#888" stroke-width="1"/>
<ellipse cx="2067" cy="745" rx="67" ry="67" fill="url(#gcell)" stroke="#888" stroke-width="1"/>
<g fill="#6ab86a"><path d="M1897,698 Q1904,698 1903,712 L1900,745 L1904,785 Q1904,794 1897,794 Q1891,794 1892,785 L1894,745 L1891,712 Q1890,698 1897,698z"/>
<path d="M2047,702 Q2054,702 2053,716 L2049,748 L2053,790 Q2053,800 2046,800 Q2040,800 2041,790 L2044,748 L2041,716 Q2040,702 2047,702z"/></g>
<g fill="#1a5aa8"><path d="M1930,700 Q1937,700 1936,714 L1933,745 L1937,788 Q1937,797 1930,797 Q1924,797 1925,788 L1927,745 L1924,714 Q1923,700 1930,700z"/>
<path d="M1952,700 Q1959,700 1958,714 L1954,745 L1958,788 Q1958,797 1951,797 Q1945,797 1946,788 L1948,745 L1945,714 Q1944,700 1952,700z"/></g>
<text x="1781" y="1009" class="b" font-size="24" text-anchor="middle" textLength="86" lengthAdjust="spacingAndGlyphs">fragility</text>
<text x="1999" y="1009" class="b" font-size="24" text-anchor="middle" textLength="128" lengthAdjust="spacingAndGlyphs">aneuploidy</text>
</svg>
</body></html>
